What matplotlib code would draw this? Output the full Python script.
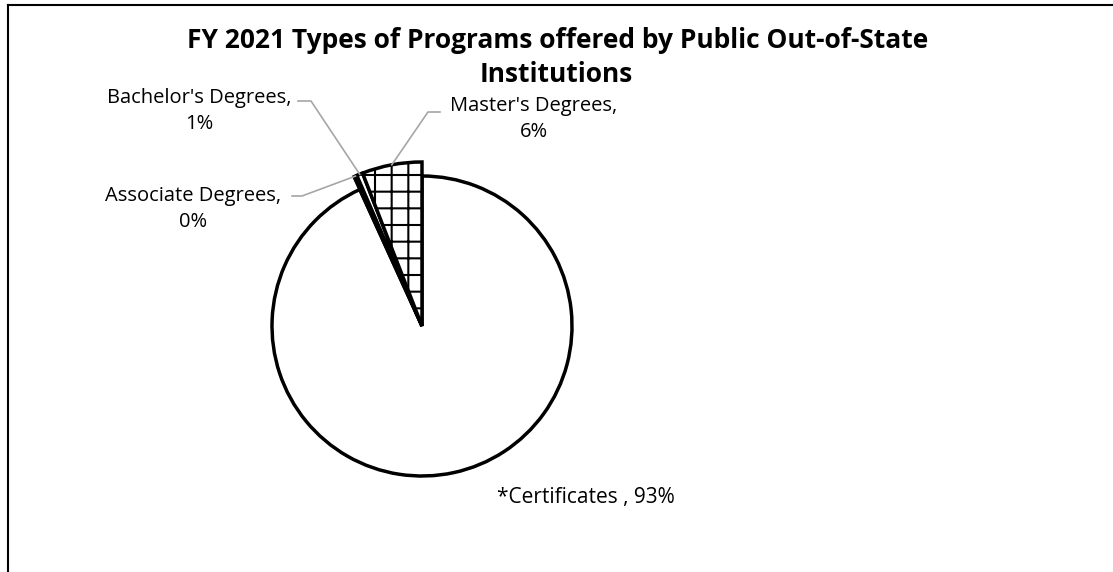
import numpy as np
import matplotlib
matplotlib.use('Agg')
import matplotlib.pyplot as plt

# Data (percent of programs)
categories = ['*Certificates ', 'Associate Degrees', "Bachelor's Degrees", "Master's Degrees"]
shares = [93.2, 0.3, 0.6, 5.9]
shown_pct = ['93%', '0%', '1%', '6%']
title_lines = ['FY 2021 Types of Programs offered by Public Out-of-State', 'Institutions']

W, H = 1113, 572
plt.rcParams['font.family'] = ['Open Sans', 'DejaVu Sans']
plt.rcParams['hatch.linewidth'] = 1.5

fig = plt.figure(figsize=(W / 100, H / 100), dpi=100)
ax = fig.add_axes([0, 0, 1, 1])


def py(y):
    # pixel row (from top) -> data y
    return H - y


cx, cy = 422, py(326)
wedges, _ = ax.pie(shares, startangle=90, counterclock=False, center=(cx, cy), radius=164,
                   colors=['white'] * 4,
                   wedgeprops=dict(edgecolor='black', linewidth=2.5, joinstyle='miter'),
                   frame=True)
ax.set_xlim(0, W)
ax.set_ylim(0, H)
ax.set_aspect('equal')
ax.axis('off')
wedges[0].set_radius(150)
wedges[3].set_hatch('+')

# chart border (top and left only visible)
ax.plot([8, W], [py(5), py(5)], color='black', lw=1.5, clip_on=False)
ax.plot([8, 8], [py(5), 0], color='black', lw=1.5, clip_on=False)

# title
ax.text(558, py(40), title_lines[0], ha='center', va='center', fontsize=19, fontweight='bold')
ax.text(556, py(74), title_lines[1], ha='center', va='center', fontsize=19, fontweight='bold')

# data labels: (text centre x, text centre y, leader start x, leader knee x, leader y)
label_pos = {
    1: (193, 209, 292, 302, 196),
    2: (199, 111, 298, 311, 101),
    3: (534, 119, 440, 428, 112),
}
for i, (tx, ty, lx0, lx1, ly) in label_pos.items():
    ax.text(tx, py(ty), categories[i] + ',\n' + shown_pct[i], ha='center', va='center',
            fontsize=14.5, linespacing=1.4)
    w = wedges[i]
    mid = np.deg2rad((w.theta1 + w.theta2) / 2)
    ex, ey = cx + 164 * np.cos(mid), cy + 164 * np.sin(mid)
    ax.plot([lx0, lx1, ex], [py(ly), py(ly), ey], color='#a6a6a6', lw=1.2)

ax.text(497, py(497), categories[0] + ', ' + shown_pct[0], ha='left', va='center', fontsize=15)

fig.savefig('out.png', dpi=100)
